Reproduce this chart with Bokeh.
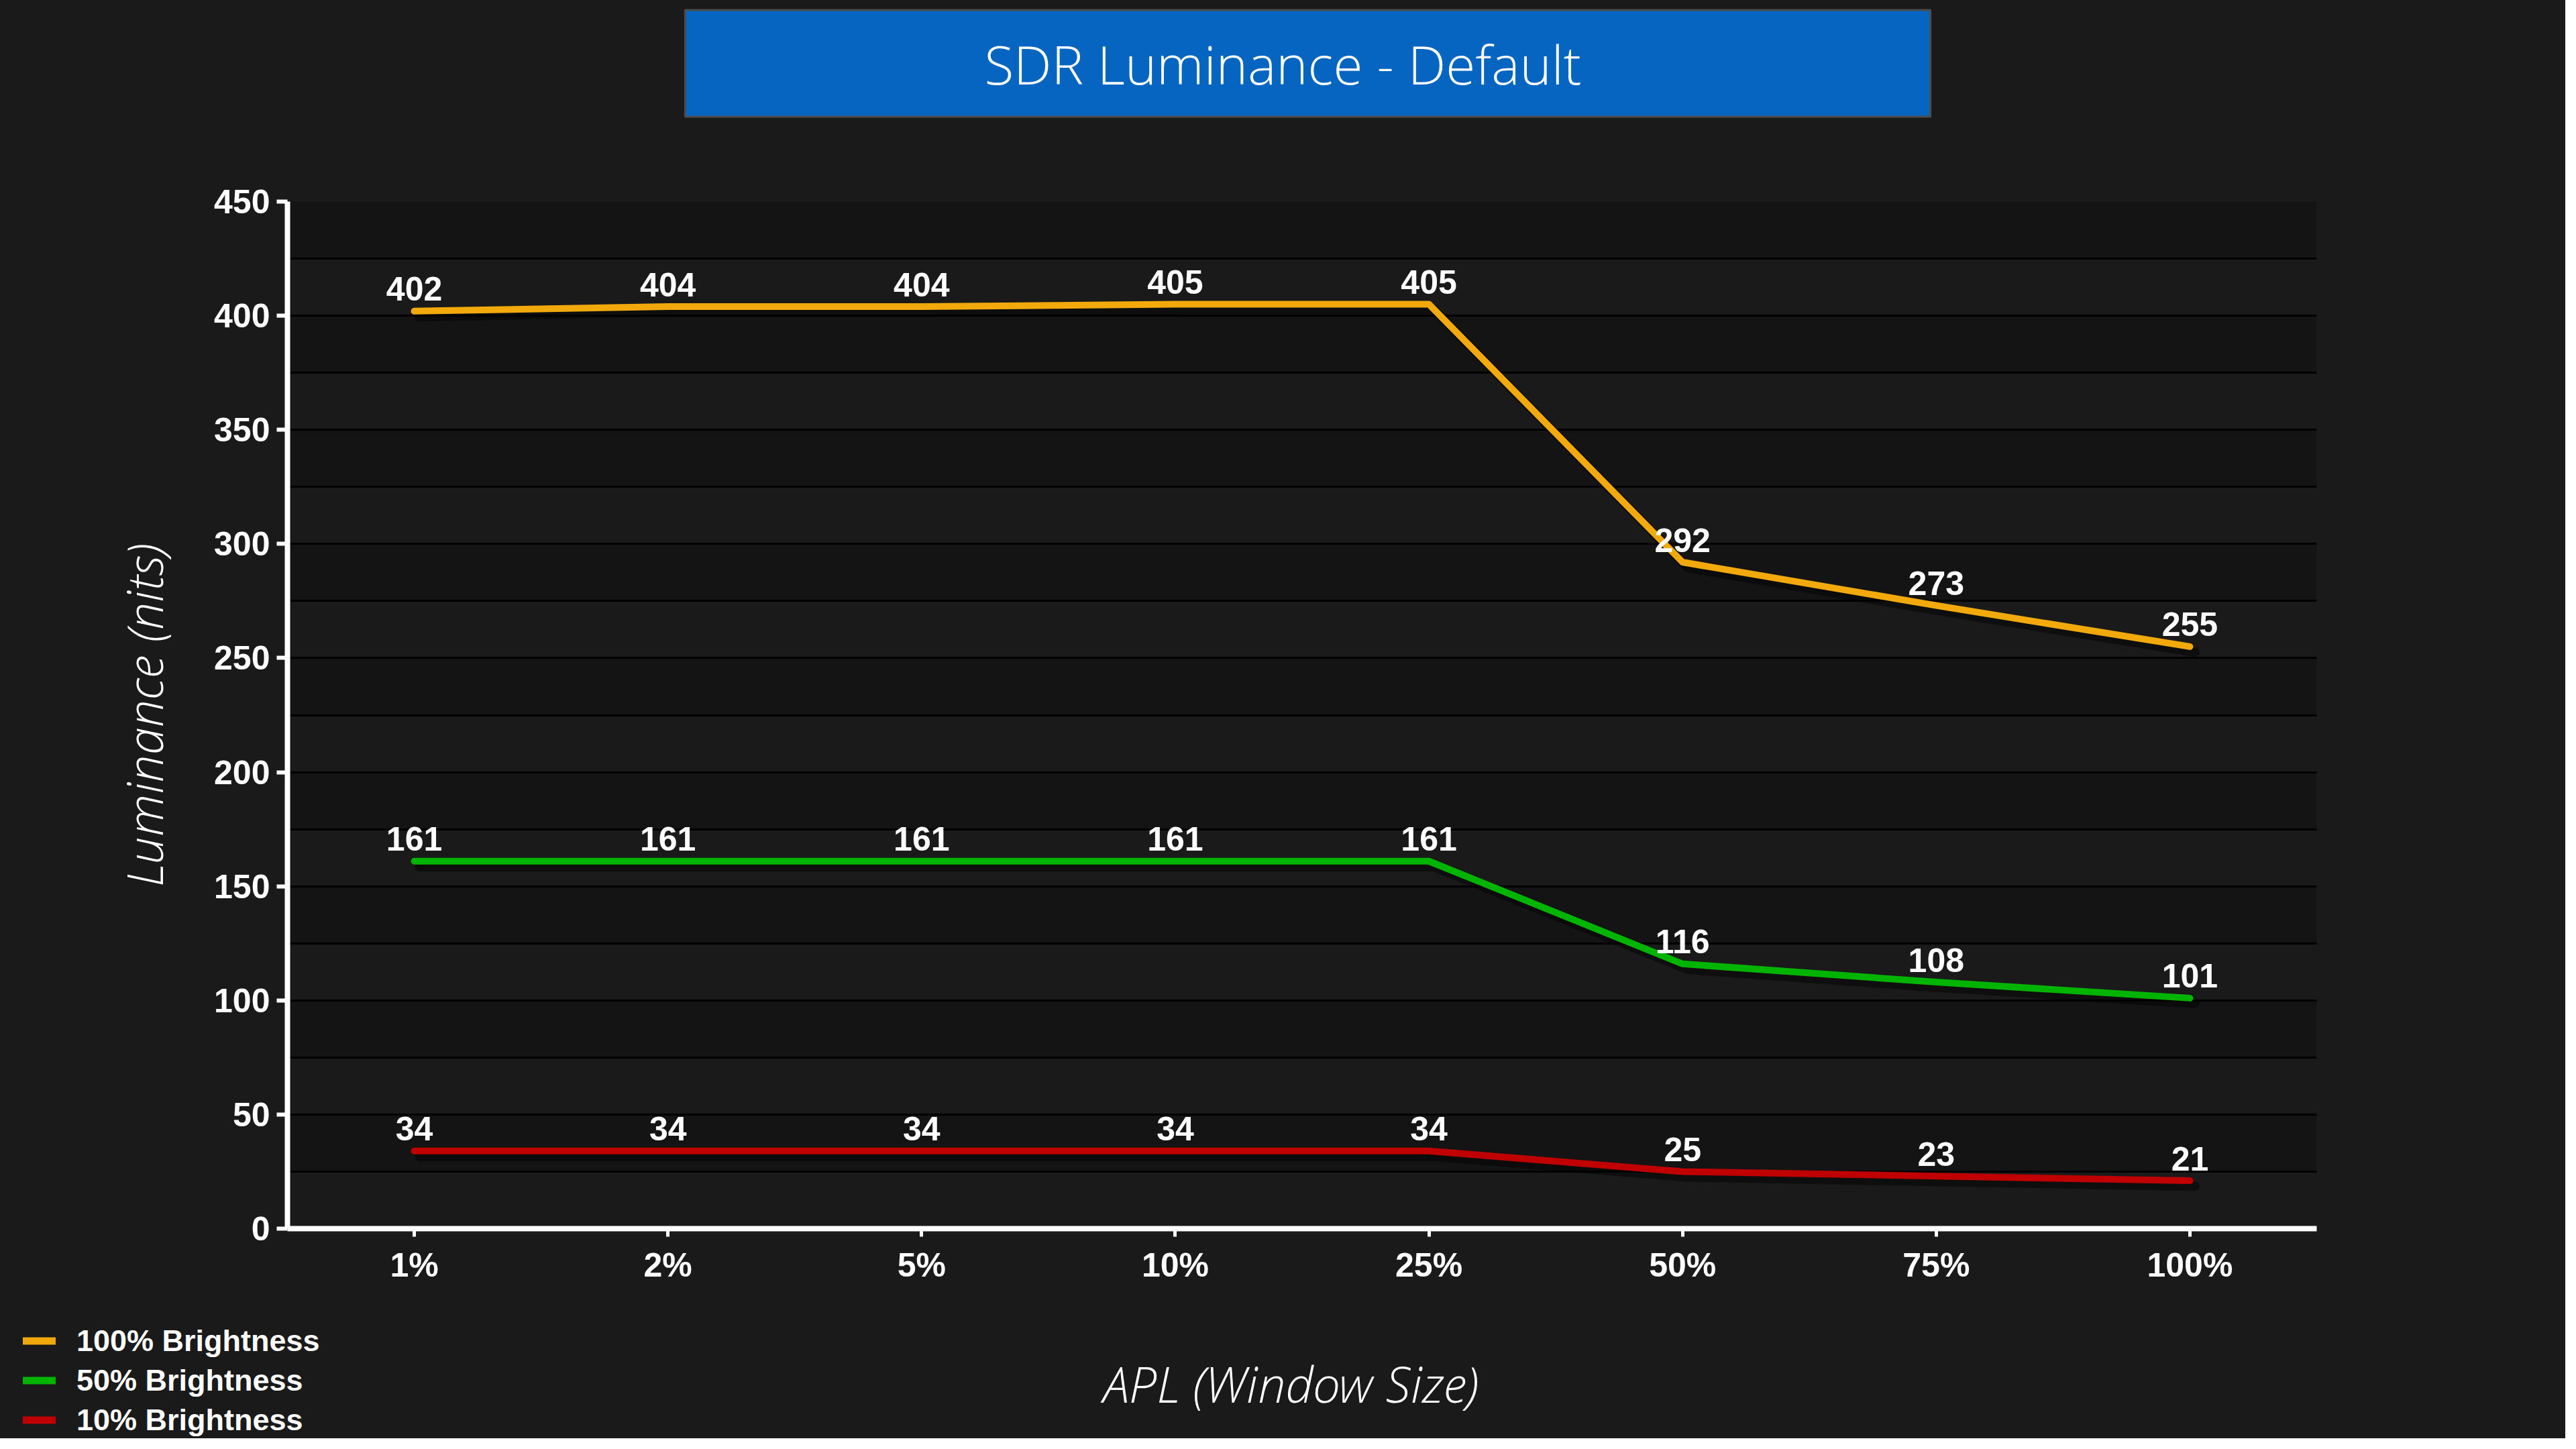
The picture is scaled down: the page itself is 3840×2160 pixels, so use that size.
from bokeh.plotting import figure
from bokeh.layouts import column, row
from bokeh.models import (ColumnDataSource, FactorRange, Range1d, SingleIntervalTicker,
                          Label, Legend, LegendItem)
from bokeh.transform import dodge
from bokeh.core.properties import value
from bokeh.embed import file_html
from bokeh.resources import INLINE

# ---- data ----
categories = ["1%", "2%", "5%", "10%", "25%", "50%", "75%", "100%"]
bright_100 = [402, 404, 404, 405, 405, 292, 273, 255]
bright_50 = [161, 161, 161, 161, 161, 116, 108, 101]
bright_10 = [34, 34, 34, 34, 34, 25, 23, 21]
series_names = ["100% Brightness", "50% Brightness", "10% Brightness"]
series_colors = ["#f2a90c", "#00b400", "#c00000"]
title_text = "SDR Luminance - Default"
x_title = "APL (Window Size)"
y_title = "Luminance (nits)"

W = 3824
H_TOP, H_MAIN, H_BOT = 184, 1776, 184
FL, FR = 428, 3453
BG = "#1a1a1a"
TICK_FONT = "Liberation Sans"
LIGHT = "'Open Sans Light', 'Open Sans'"


def blank_fig(h, left=FL, right=W - FR, **kw):
    f = figure(width=W, height=h, output_backend="svg", toolbar_location=None,
               x_axis_location=None, y_axis_location=None,
               min_border_left=left, min_border_right=right,
               min_border_top=0, min_border_bottom=0, **kw)
    f.title.visible = False
    f.grid.visible = False
    f.background_fill_color = None
    f.border_fill_color = BG
    f.outline_line_color = None
    return f


# ---- title strip ----
top = blank_fig(H_TOP, x_range=Range1d(0, 1), y_range=Range1d(0, 1))
top.add_layout(Label(x=1949 - FL, y=90, x_units="screen", y_units="screen",
                     text=title_text, text_align="center", text_baseline="middle",
                     text_color="white", text_font=LIGHT, text_font_size="80px",
                     background_fill_color="#0665c0", border_line_color="#4d4d4d",
                     border_line_width=3,
                     padding=dict(top=25, right=520, bottom=25, left=446)))

# ---- main chart ----
p = figure(width=W, height=H_MAIN, x_range=FactorRange(factors=categories, range_padding=0),
           y_range=Range1d(0, 450), output_backend="svg", toolbar_location=None,
           min_border_left=FL, min_border_right=W - FR, min_border_top=116,
           min_border_bottom=129)
p.title.visible = False
p.background_fill_color = None
p.border_fill_color = BG
p.outline_line_color = None

p.xgrid.grid_line_color = None
p.ygrid.ticker = SingleIntervalTicker(interval=25)
p.ygrid.grid_line_color = "#000000"
p.ygrid.grid_line_width = 3
p.ygrid.band_fill_color = "#141414"
p.ygrid.band_fill_alpha = 1.0

p.yaxis.ticker = SingleIntervalTicker(interval=50, num_minor_ticks=0)
p.yaxis.axis_line_color = "white"
p.yaxis.axis_line_width = 8
p.yaxis.major_tick_line_color = "white"
p.yaxis.major_tick_line_width = 6
p.yaxis.major_tick_out = 16
p.yaxis.major_tick_in = 0
p.yaxis.minor_tick_line_color = None
p.yaxis.major_label_text_color = "white"
p.yaxis.major_label_text_font = TICK_FONT
p.yaxis.major_label_text_font_style = "bold"
p.yaxis.major_label_text_font_size = "50px"
p.yaxis.major_label_standoff = 10
p.yaxis.axis_label = y_title
p.yaxis.axis_label_text_color = "white"
p.yaxis.axis_label_text_font = LIGHT
p.yaxis.axis_label_text_font_style = "italic"
p.yaxis.axis_label_text_font_size = "74px"
p.yaxis.axis_label_standoff = 51

p.xaxis.axis_line_color = "white"
p.xaxis.axis_line_width = 8
p.xaxis.major_tick_line_color = "white"
p.xaxis.major_tick_line_width = 5
p.xaxis.major_tick_out = 12
p.xaxis.major_tick_in = 0
p.xaxis.minor_tick_line_color = None
p.xaxis.major_label_text_color = "white"
p.xaxis.major_label_text_font = TICK_FONT
p.xaxis.major_label_text_font_style = "bold"
p.xaxis.major_label_text_font_size = "50px"
p.xaxis.major_label_standoff = 14

src = ColumnDataSource(dict(x=categories, y100=bright_100, y50=bright_50, y10=bright_10))
cols = ["y100", "y50", "y10"]

for col, color in zip(cols, series_colors):
    p.line(x=dodge("x", 0.02, range=p.x_range), y=dodge(col, -2.4, range=p.y_range),
           source=src, line_color="black", line_alpha=0.45, line_width=14,
           line_cap="round", line_join="round")
    p.line(x="x", y=col, source=src, line_color=color, line_width=10,
           line_cap="round", line_join="round")
    p.text(x="x", y=col, text=col, source=src, text_color="white",
           text_font=value(TICK_FONT), text_font_style="bold", text_font_size="50px",
           text_align="center", text_baseline="alphabetic", y_offset=-33)

# ---- bottom strip: legend + x title (frame covers the whole strip) ----
bot = blank_fig(H_BOT, left=0, right=0, x_range=FactorRange(factors=categories),
                y_range=Range1d(1000, 1001))
leg_r = [bot.line(x="x", y=col, source=src, line_color=color, line_width=11,
                  line_cap="round") for col, color in zip(cols, series_colors)]
legend = Legend(items=[LegendItem(label=n, renderers=[r]) for n, r in zip(series_names, leg_r)],
                location=(34, -2), orientation="vertical",
                padding=0, margin=0, spacing=0, glyph_width=49, glyph_height=59,
                label_height=59, label_standoff=31, border_line_color=None,
                background_fill_alpha=0, label_text_color="white",
                label_text_font=TICK_FONT, label_text_font_style="bold",
                label_text_font_size="45px")
bot.add_layout(legend)
bot.add_layout(Label(x=1924, y=82, x_units="screen", y_units="screen",
                     text=x_title, text_align="center", text_baseline="middle",
                     text_color="white", text_font=LIGHT, text_font_style="italic",
                     text_font_size="74px"))

layout = column(top, p, row(bot, styles={"background-color": BG}), spacing=0,
                styles={"background-color": BG})
open("out.html", "w").write(file_html(layout, INLINE))
